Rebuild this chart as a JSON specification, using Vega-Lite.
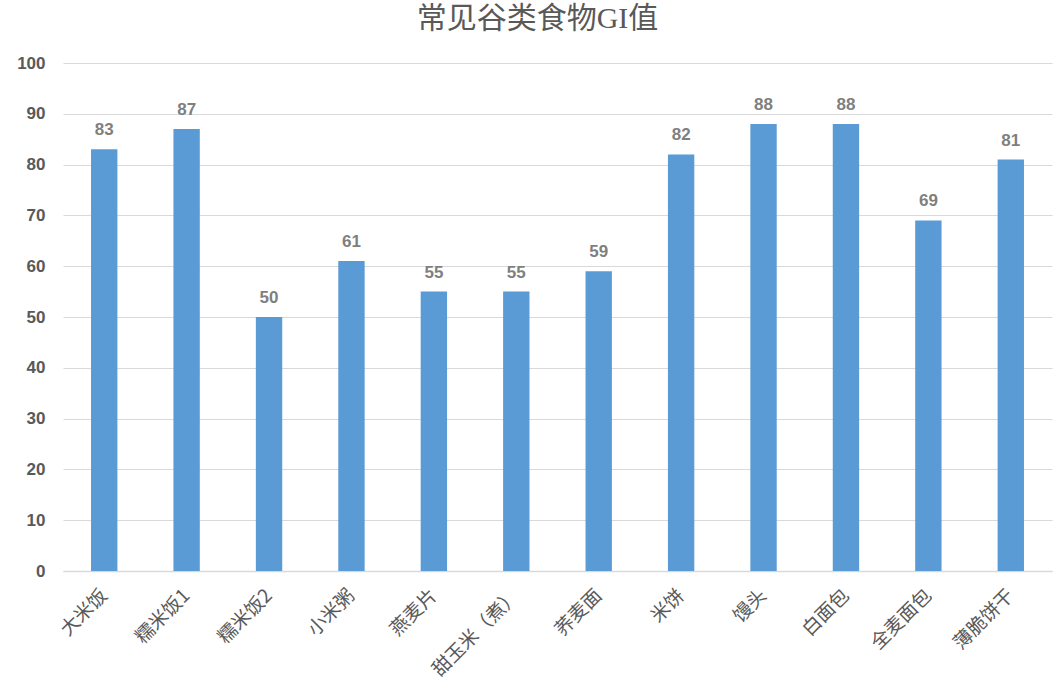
{
  "$schema": "https://vega.github.io/schema/vega-lite/v6.json",
  "autosize": "none",
  "width": 989,
  "height": 508,
  "padding": {"left": 63, "top": 63, "right": 2, "bottom": 121},
  "background": "white",
  "view": {"stroke": null},
  "title": {
    "text": "常见谷类食物GI值",
    "font": "Liberation Serif, Noto Sans CJK SC",
    "fontSize": 30,
    "fontWeight": "normal",
    "color": "#595959",
    "anchor": "middle",
    "dx": -20,
    "offset": 20
  },
  "data": {
    "values": [
      {"food": "大米饭", "gi": 83},
      {"food": "糯米饭1", "gi": 87},
      {"food": "糯米饭2", "gi": 50},
      {"food": "小米粥", "gi": 61},
      {"food": "燕麦片", "gi": 55},
      {"food": "甜玉米（煮）", "gi": 55},
      {"food": "荞麦面", "gi": 59},
      {"food": "米饼", "gi": 82},
      {"food": "馒头", "gi": 88},
      {"food": "白面包", "gi": 88},
      {"food": "全麦面包", "gi": 69},
      {"food": "薄脆饼干", "gi": 81}
    ]
  },
  "encoding": {
    "x": {
      "field": "food",
      "type": "nominal",
      "sort": null,
      "scale": {"paddingInner": 0.68, "paddingOuter": 0.34},
      "axis": {
        "title": null,
        "labelAngle": -45,
        "labelAlign": "right",
        "labelBaseline": "middle",
        "labelFont": "Noto Sans CJK SC",
        "labelFontSize": 19,
        "labelColor": "#595959",
        "labelPadding": 21,
        "ticks": false,
        "domainColor": "#D9D9D9",
        "domainWidth": 1.5,
        "grid": false
      }
    },
    "y": {
      "field": "gi",
      "type": "quantitative",
      "scale": {"domain": [0, 100]},
      "axis": {
        "title": null,
        "values": [0, 10, 20, 30, 40, 50, 60, 70, 80, 90, 100],
        "labelFont": "Liberation Sans Narrow, Liberation Sans",
        "labelFontSize": 17,
        "labelFontWeight": "bold",
        "labelColor": "#595959",
        "labelPadding": 18,
        "ticks": false,
        "domain": false,
        "gridColor": "#D9D9D9",
        "gridWidth": 1
      }
    }
  },
  "layer": [
    {"mark": {"type": "bar", "color": "#5B9BD5"}},
    {
      "mark": {
        "type": "text",
        "dy": -19,
        "font": "Liberation Sans Narrow, Liberation Sans",
        "fontSize": 17,
        "fontWeight": "bold",
        "color": "#7F7F7F"
      },
      "encoding": {"text": {"field": "gi", "type": "quantitative"}}
    }
  ]
}
